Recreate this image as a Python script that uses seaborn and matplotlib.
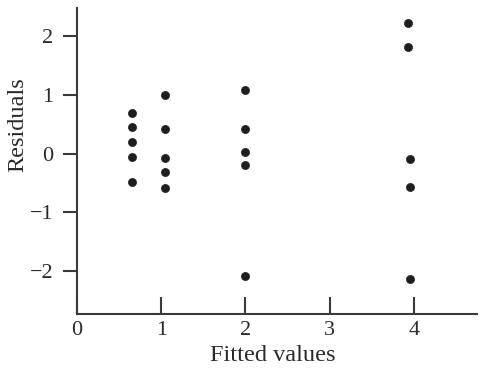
import matplotlib
matplotlib.use("Agg")
import matplotlib.pyplot as plt
import seaborn as sns
import pandas as pd

# Data
fitted = [0.65, 0.65, 0.65, 0.65, 0.65,
          1.04, 1.04, 1.04, 1.04, 1.04,
          2.0, 2.0, 2.0, 2.0, 2.0,
          3.93, 3.93, 3.95, 3.95, 3.96]
residuals = [0.70, 0.46, 0.20, -0.05, -0.48,
             1.00, 0.42, -0.08, -0.31, -0.59,
             1.09, 0.42, 0.02, -0.20, -2.08,
             2.22, 1.81, -0.09, -0.56, -2.13]
xticks = [0, 1, 2, 3, 4]
yticks = [-2, -1, 0, 1, 2]

df = pd.DataFrame({"Fitted values": fitted, "Residuals": residuals})

sns.set_style("white")
plt.rcParams["font.family"] = ["Liberation Serif", "DejaVu Serif"]

fig = plt.figure(figsize=(4.87, 3.87), dpi=100)
ax = fig.add_axes([77/487, 1 - 314/387, 400/487, 306/387])

sns.scatterplot(data=df, x="Fitted values", y="Residuals", ax=ax,
                color="#1e1e1e", s=34, edgecolor="#1e1e1e", linewidth=0.5)

ax.set_xlim(0, 4.75)
ax.set_ylim(-2.73, 2.48)
ax.set_xticks(xticks)
ax.set_yticks(yticks)
ax.set_xticklabels([str(t) for t in xticks])
ax.set_yticklabels([("\u2212" + str(-t)) if t < 0 else str(t) for t in yticks])

for s in ["top", "right"]:
    ax.spines[s].set_visible(False)
for s in ["left", "bottom"]:
    ax.spines[s].set_color("#3a3a3a")
    ax.spines[s].set_linewidth(1.5)

ax.tick_params(axis="y", direction="out", length=10, width=1.5, color="#3a3a3a",
               labelsize=16, pad=7, left=True, labelcolor="#2a2a2a")
ax.tick_params(axis="x", direction="in", length=12, width=1.5, color="#3a3a3a",
               labelsize=16, pad=5, bottom=True, labelcolor="#2a2a2a")

ax.set_xlabel("Fitted values", fontsize=17.5, color="#2a2a2a")
ax.set_ylabel("Residuals", fontsize=17.5, color="#2a2a2a")
ax.xaxis.set_label_coords(0.49, -0.1)
ax.yaxis.set_label_coords(-0.1225, 0.618)
ax.grid(False)

fig.savefig("out.png", dpi=100)
